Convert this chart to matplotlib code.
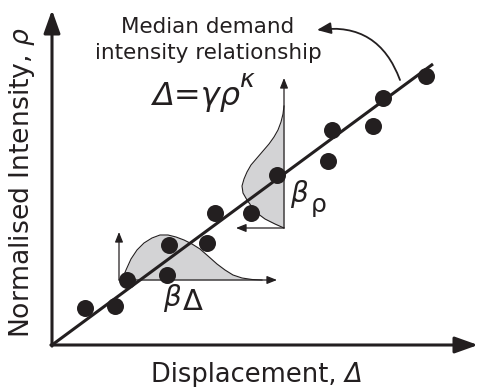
import matplotlib.pyplot as plt
import numpy as np

# scatter of normalised intensity vs displacement (diagram units)
disp = [0.33, 0.63, 0.75, 1.15, 1.17, 1.55, 1.63, 1.99, 2.25, 2.76, 2.80, 3.21, 3.31, 3.74]
inten = [0.37, 0.39, 0.65, 0.70, 1.00, 1.02, 1.32, 1.32, 1.70, 1.84, 2.15, 2.19, 2.47, 2.69]

# median demand-intensity line
med_x = [0.0, 3.81]
med_y = [0.0, 2.81]

# spread of displacement at a given intensity (beta_Delta)
bd_x = [0.70, 0.74, 0.79, 0.85, 0.92, 1.00, 1.08, 1.16, 1.24, 1.32,
        1.40, 1.48, 1.56, 1.65, 1.73, 1.81, 1.90, 2.00, 2.10]
bd_h = [0.00, 0.10, 0.21, 0.30, 0.37, 0.42, 0.45, 0.45, 0.43, 0.40,
        0.36, 0.31, 0.24, 0.16, 0.10, 0.05, 0.02, 0.005, 0.0]
bd_base = (0.67, 0.65)

# spread of intensity at a given displacement (beta_rho)
br_y = [1.17, 1.21, 1.26, 1.32, 1.38, 1.45, 1.52, 1.59, 1.66, 1.73,
        1.80, 1.87, 1.94, 2.01, 2.08, 2.15, 2.23, 2.31, 2.39]
br_w = [0.00, 0.09, 0.19, 0.27, 0.32, 0.37, 0.41, 0.42, 0.40, 0.37,
        0.33, 0.27, 0.21, 0.15, 0.10, 0.06, 0.03, 0.01, 0.0]
br_base = (2.32, 1.17)

ink = '#231f20'
fill = '#d3d3d5'

fig = plt.figure(figsize=(4.8, 3.87), dpi=100)
ax = fig.add_axes([0, 0, 1, 1])
ax.set_xlim(-0.52, 4.28)
ax.set_ylim(-0.42, 3.45)
ax.axis('off')


def arrow(ax, start, end, lw, hl, hw, scale):
    ax.annotate('', xy=end, xytext=start,
                arrowprops=dict(arrowstyle=f'-|>,head_length={hl},head_width={hw}',
                                lw=lw, color=ink, shrinkA=0, shrinkB=0,
                                mutation_scale=scale))


# main axes
arrow(ax, (0, -0.011), (0, 3.35), 2.2, 0.7, 0.25, 20)
arrow(ax, (-0.011, 0), (4.26, 0), 2.2, 0.7, 0.25, 20)

# beta_Delta distribution
bx = np.array(bd_x)
by = bd_base[1] + np.array(bd_h)
ax.fill_between(bx, bd_base[1], by, color=fill, lw=0, zorder=1)
ax.plot(bx, by, color=ink, lw=0.8, zorder=2)
arrow(ax, bd_base, (bd_base[0], 1.13), 0.9, 0.5, 0.2, 12)
arrow(ax, bd_base, (2.25, bd_base[1]), 0.9, 0.5, 0.2, 12)

# beta_rho distribution
ry = np.array(br_y)
rx = br_base[0] - np.array(br_w)
ax.fill_betweenx(ry, rx, br_base[0], color=fill, lw=0, zorder=1)
ax.plot(rx, ry, color=ink, lw=0.8, zorder=2)
arrow(ax, br_base, (br_base[0], 2.67), 0.9, 0.5, 0.2, 12)
arrow(ax, br_base, (1.84, br_base[1]), 0.9, 0.5, 0.2, 12)

# median line and points
ax.plot(med_x, med_y, color=ink, lw=2.2, solid_capstyle='butt', zorder=3)
ax.scatter(disp, inten, s=150, color=ink, lw=0, zorder=4)

# annotation
ax.text(1.56, 3.05, 'Median demand\nintensity relationship', ha='center',
        va='center', fontsize=15.5, color=ink, linespacing=1.35)
ax.annotate('', xy=(2.65, 3.15), xytext=(3.48, 2.65),
            arrowprops=dict(arrowstyle='-|>,head_length=0.6,head_width=0.25',
                            lw=1.3, color=ink, shrinkA=0, shrinkB=0,
                            mutation_scale=14, connectionstyle='arc3,rad=0.4'))
ax.text(1.00, 2.40, 'Δ=γρ', style='italic', fontsize=23, color=ink)
ax.text(1.88, 2.58, 'κ', style='italic', fontsize=18, color=ink)

ax.text(2.38, 1.43, 'β', style='italic', fontsize=20, color=ink)
ax.text(2.59, 1.33, 'ρ', fontsize=18, color=ink)
ax.text(1.11, 0.39, 'β', style='italic', fontsize=20, color=ink)
ax.text(1.31, 0.35, 'Δ', fontsize=21, color=ink)

# axis labels
ax.text(2.93, -0.37, 'Displacement, ', ha='right', fontsize=18.5, color=ink)
ax.text(2.93, -0.37, 'Δ', ha='left', style='italic', fontsize=18.5, color=ink)
ax.text(-0.30, 1.63, r'Normalised Intensity, $\rho$', rotation=90,
        ha='center', va='center', fontsize=19.2, color=ink)

fig.savefig('out.png', dpi=100)
